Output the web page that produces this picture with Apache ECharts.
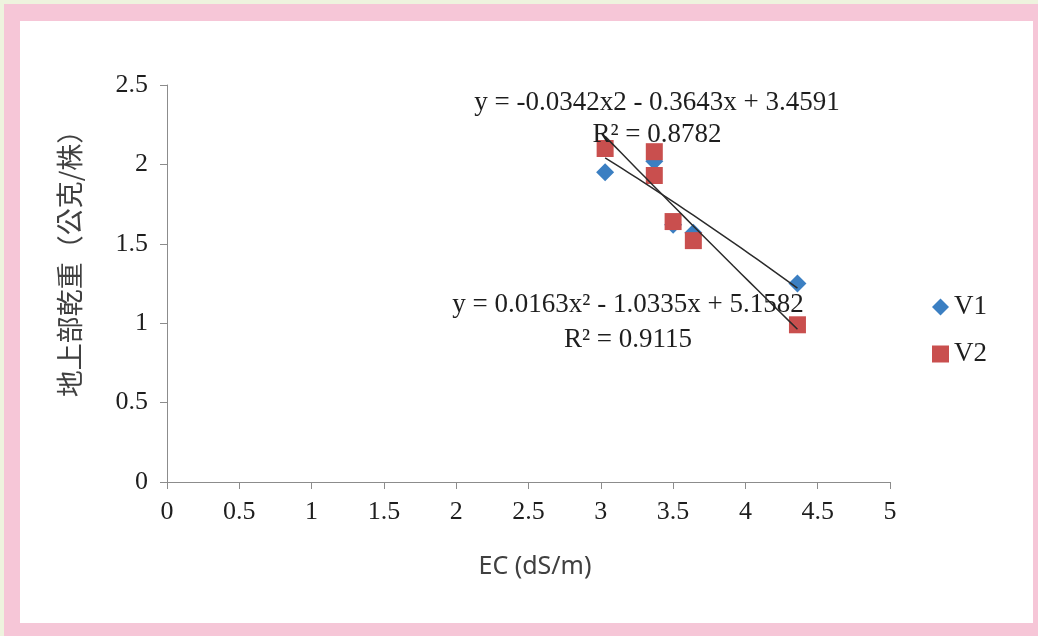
<!DOCTYPE html>
<html>
<head>
<meta charset="utf-8">
<script src="https://cdn.jsdelivr.net/npm/echarts@6/dist/echarts.min.js"></script>
<style>
  html, body { margin: 0; padding: 0; width: 1038px; height: 636px; background: #eef3de; overflow: hidden; }
  #pink { position: absolute; left: 4px; top: 4px; width: 1034px; height: 632px; background: #f6c6d7; }
  #white { position: absolute; left: 20px; top: 21px; width: 1013px; height: 602px; background: #ffffff; }
  #chart { position: absolute; left: 0; top: 0; width: 1038px; height: 636px; }
</style>
</head>
<body>
<div id="pink"></div>
<div id="white"></div>
<div id="chart"></div>
<script>
// ---- data ----
const seriesNames = ['V1', 'V2'];
const v1X = [3.03, 3.37, 3.50, 3.64, 4.36];
const v1Y = [1.95, 2.02, 1.62, 1.57, 1.25];
const v2X = [3.03, 3.37, 3.37, 3.50, 3.64, 4.36];
const v2Y = [2.10, 2.08, 1.93, 1.64, 1.52, 0.99];
// polynomial trendline coefficients [a, b, c] for y = a x^2 + b x + c (as printed)
const v1Coef = [-0.0342, -0.3643, 3.4591];
const v2Coef = [0.0163, -1.0335, 5.1582];
const v1EqText = ['y = -0.0342x2 - 0.3643x + 3.4591', 'R² = 0.8782'];
const v2EqText = ['y = 0.0163x² - 1.0335x + 5.1582', 'R² = 0.9115'];
const xTitle = 'EC (dS/m)';
const yTitle = '地上部乾重（公克/株）';

function pairs(xs, ys) { return xs.map((x, i) => [x, ys[i]]); }
function trend(xs, coef) {
  const lo = Math.min(...xs), hi = Math.max(...xs);
  const n = 24, out = [];
  for (let i = 0; i <= n; i++) {
    const x = lo + (hi - lo) * i / n;
    out.push([x, coef[0] * x * x + coef[1] * x + coef[2]]);
  }
  return out;
}

const serif = '"Liberation Serif", "DejaVu Serif", serif';
const chart = echarts.init(document.getElementById('chart'), null, { renderer: 'canvas' });
const axisCol = '#8c8c8c';
const labelCol = '#1e1e1e';

function eqText(x, y, text) {
  return { type: 'text', x: x, y: y, z: 10,
    style: { text: text, font: '27px ' + serif, fill: '#1e1e1e', textAlign: 'center', textVerticalAlign: 'middle' } };
}

chart.setOption({
  animation: false,
  backgroundColor: 'transparent',
  grid: { left: 167, top: 85, width: 723, height: 397, containLabel: false },
  xAxis: {
    type: 'value', min: 0, max: 5, interval: 0.5,
    axisLine: { show: true, onZero: false, lineStyle: { color: axisCol, width: 1 } },
    axisTick: { show: true, inside: false, length: 7, lineStyle: { color: axisCol } },
    axisLabel: { margin: 17, fontFamily: serif, fontSize: 26, color: labelCol },
    splitLine: { show: false }
  },
  yAxis: {
    type: 'value', min: 0, max: 2.5, interval: 0.5,
    axisLine: { show: true, onZero: false, lineStyle: { color: axisCol, width: 1 } },
    axisTick: { show: true, inside: false, length: 7, lineStyle: { color: axisCol } },
    axisLabel: { margin: 19, fontFamily: serif, fontSize: 26, color: labelCol },
    splitLine: { show: false }
  },
  legend: {
    data: seriesNames,
    orient: 'vertical',
    left: 927, top: 287,
    itemWidth: 17, itemHeight: 17, itemGap: 17,
    textStyle: { fontFamily: serif, fontSize: 27, color: labelCol, lineHeight: 30 }
  },
  series: [
    {
      name: 'V1', type: 'scatter', symbol: 'diamond', symbolSize: 18, z: 2,
      itemStyle: { color: '#3b7fc2', opacity: 1 },
      data: pairs(v1X, v1Y)
    },
    {
      name: 'V2', type: 'scatter', symbol: 'rect', symbolSize: 17, z: 3,
      itemStyle: { color: '#c94f4e', opacity: 1 },
      data: pairs(v2X, v2Y)
    },
    {
      name: 'V1 trend', type: 'line', showSymbol: false, symbol: 'none', smooth: false, z: 4,
      lineStyle: { color: '#2b2b2b', width: 1.5 },
      data: trend(v1X, v1Coef)
    },
    {
      name: 'V2 trend', type: 'line', showSymbol: false, symbol: 'none', smooth: false, z: 4,
      lineStyle: { color: '#2b2b2b', width: 1.5 },
      data: trend(v2X, v2Coef)
    }
  ],
  graphic: [
    eqText(657, 103, v1EqText[0]),
    eqText(657, 135, v1EqText[1]),
    eqText(628, 305, v2EqText[0]),
    eqText(628, 340, v2EqText[1]),
    { type: 'text', x: 535, y: 567, z: 10,
      style: { text: xTitle, font: '25px "Noto Sans", "Open Sans", sans-serif', fill: '#404040', textAlign: 'center', textVerticalAlign: 'middle' } },
    { type: 'text', x: 70, y: 257, rotation: Math.PI / 2, z: 10,
      style: { text: yTitle, font: '27px "Noto Sans CJK TC", "Noto Sans CJK SC", sans-serif', fill: '#404040', textAlign: 'center', textVerticalAlign: 'middle' } }
  ]
});
</script>
</body>
</html>
